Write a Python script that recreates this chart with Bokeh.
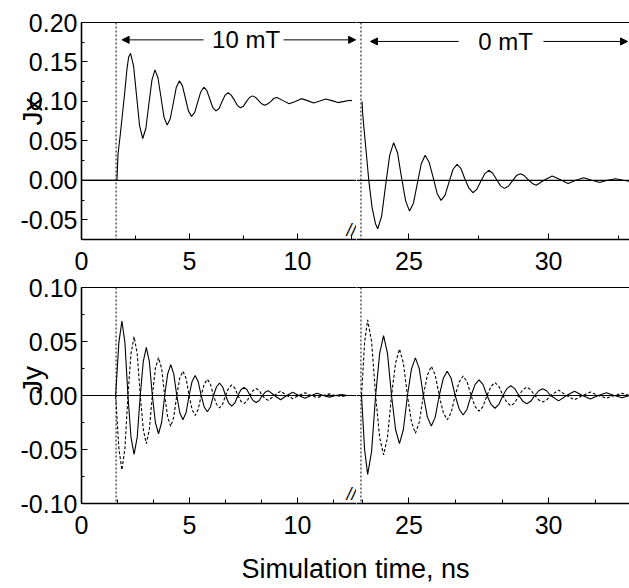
from bokeh.plotting import figure
from bokeh.layouts import column, row
from bokeh.models import (Range1d, Span, Label, Arrow, NormalHead, LinearAxis,
                          SingleIntervalTicker, FixedTicker, PrintfTickFormatter)
from bokeh.embed import file_html
from bokeh.resources import INLINE

# ---------------- data ----------------
# top panel, x component, field on (left segment)
t_top_left = [0, 1.64, 1.69, 1.80, 1.90, 2.00, 2.10, 2.18, 2.27, 2.41, 2.55, 2.69, 2.835,
              2.98, 3.12, 3.26, 3.40, 3.54, 3.68, 3.82, 3.965, 4.11, 4.25, 4.39, 4.53,
              4.67, 4.81, 4.95, 5.095, 5.24, 5.38, 5.52, 5.66, 5.80, 5.94, 6.08, 6.225,
              6.37, 6.51, 6.65, 6.79, 6.93, 7.07, 7.21, 7.355, 7.50, 7.64, 7.78, 7.92,
              8.06, 8.20, 8.34, 8.485, 8.63, 8.77, 8.91, 9.05, 9.33, 9.615, 9.90, 10.18,
              10.46, 10.745, 11.03, 11.31, 11.59, 11.875, 12.16, 12.44, 12.52]
jx_top_left = [0, 0, 0.033, 0.059, 0.085, 0.111, 0.140, 0.156, 0.161, 0.145, 0.107, 0.069, 0.053,
               0.066, 0.097, 0.127, 0.140, 0.130, 0.105, 0.080, 0.070, 0.078, 0.098, 0.118, 0.126,
               0.120, 0.104, 0.088, 0.081, 0.086, 0.099, 0.112, 0.118, 0.114, 0.103, 0.092, 0.088,
               0.091, 0.100, 0.108, 0.111, 0.108, 0.102, 0.095, 0.092, 0.094, 0.100, 0.105, 0.107,
               0.105, 0.101, 0.097, 0.095, 0.097, 0.100, 0.104, 0.105, 0.101, 0.097, 0.100, 0.1035,
               0.101, 0.098, 0.1005, 0.103, 0.101, 0.0985, 0.100, 0.1015, 0.1005]

# top panel, field off (right segment)
t_top_right = [23.32, 23.34, 23.38, 23.47, 23.56, 23.68, 23.80, 23.88, 24.02, 24.16, 24.31, 24.45,
               24.59, 24.73, 24.88, 25.02, 25.16, 25.30, 25.44, 25.58, 25.72, 25.87, 26.01, 26.15,
               26.29, 26.43, 26.58, 26.72, 26.86, 27.00, 27.15, 27.29, 27.43, 27.57, 27.72, 27.86,
               28.00, 28.14, 28.28, 28.42, 28.56, 28.70, 28.85, 28.99, 29.13, 29.27, 29.42, 29.56,
               29.84, 30.13, 30.41, 30.70, 30.98, 31.26, 31.55, 31.83, 32.11, 32.40, 32.68, 32.95]
jx_top_right = [0.100, 0.085, 0.069, 0.035, 0.000, -0.035, -0.055, -0.0614, -0.0455, -0.007, 0.032, 0.0477,
                0.035, 0.004, -0.026, -0.039, -0.029, -0.004, 0.021, 0.0317, 0.023, 0.003, -0.017, -0.0254,
                -0.019, -0.003, 0.014, 0.0203, 0.015, 0.002, -0.010, -0.0157, -0.0115, -0.0015, 0.0085, 0.0127,
                0.009, 0.001, -0.007, -0.0102, -0.0075, -0.001, 0.006, 0.0084, 0.006, 0.001, -0.004, -0.0063,
                0.000, 0.0055, 0.001, -0.004, 0.000, 0.0033, 0.000, -0.0028, 0.000, 0.002, 0.000, -0.0015]

# bottom panel, y component: solid and dashed curves, field on (left segment)
t_bot_left = [0, 1.58, 1.73, 1.87, 2.01, 2.15, 2.29, 2.435, 2.58, 2.72, 2.86, 3.00, 3.14, 3.28,
              3.42, 3.565, 3.71, 3.85, 3.99, 4.13, 4.27, 4.41, 4.55, 4.695, 4.84, 4.98, 5.12,
              5.26, 5.40, 5.54, 5.68, 5.825, 5.97, 6.11, 6.25, 6.39, 6.53, 6.67, 6.81, 6.955,
              7.10, 7.24, 7.38, 7.52, 7.66, 7.80, 7.94, 8.085, 8.23, 8.37, 8.51, 8.65, 8.93,
              9.215, 9.50, 9.78, 10.06, 10.345, 10.63, 10.91, 11.19, 11.475, 11.76, 12.04, 12.30]
jy_solid_left = [0, 0, 0.049, 0.069, 0.049, 0, -0.0385, -0.0545, -0.0385, 0, 0.0315, 0.0446, 0.0315, 0,
                 -0.025, -0.0354, -0.025, 0, 0.020, 0.0286, 0.020, 0, -0.016, -0.0225, -0.016, 0, 0.013,
                 0.0185, 0.013, 0, -0.0106, -0.015, -0.0106, 0, 0.0081, 0.0115, 0.0081, 0, -0.0069, -0.0098,
                 -0.0069, 0, 0.0053, 0.0075, 0.0053, 0, -0.0046, -0.0065, -0.0046, 0, 0.0032, 0.0045, 0,
                 -0.004, 0, 0.003, 0, -0.0025, 0, 0.002, 0, -0.0015, 0, 0.001, 0]
jy_dash_left = [0, 0, -0.049, -0.069, -0.049, 0, 0.0385, 0.0545, 0.0385, 0, -0.0315, -0.0446, -0.0315, 0,
                0.025, 0.035, 0.025, 0, -0.020, -0.0286, -0.020, 0, 0.016, 0.0225, 0.016, 0, -0.013,
                -0.0185, -0.013, 0, 0.0106, 0.015, 0.0106, 0, -0.0081, -0.0115, -0.0081, 0, 0.0069, 0.0098,
                0.0069, 0, -0.0053, -0.0075, -0.0053, 0, 0.0046, 0.0065, 0.0046, 0, -0.0032, -0.0045, 0,
                0.004, 0, -0.003, 0, 0.0025, 0, -0.002, 0, 0.0015, 0, -0.001, 0]

# bottom panel, field off (right segment)
t_bot_right = [23.30, 23.41, 23.52, 23.66, 23.805, 23.95, 24.09, 24.23, 24.375, 24.52, 24.66, 24.80,
               24.945, 25.09, 25.23, 25.37, 25.515, 25.66, 25.80, 25.94, 26.085, 26.23, 26.37, 26.51,
               26.655, 26.80, 26.94, 27.08, 27.225, 27.37, 27.51, 27.65, 27.795, 27.94, 28.08, 28.22,
               28.365, 28.51, 28.65, 28.79, 28.935, 29.08, 29.22, 29.36, 29.505, 29.65, 29.79, 29.93,
               30.075, 30.36, 30.645, 30.93, 31.215, 31.50, 31.785, 32.07, 32.355, 32.64, 32.90]
jy_solid_right = [0, -0.050, -0.073, -0.052, 0, 0.039, 0.0555, 0.039, 0, -0.0315, -0.0446, -0.0315,
                  0, 0.0246, 0.0348, 0.0246, 0, -0.020, -0.0283, -0.020, 0, 0.0159, 0.0225, 0.0159,
                  0, -0.0127, -0.018, -0.0127, 0, 0.0103, 0.0145, 0.0103, 0, -0.0083, -0.0118, -0.0083,
                  0, 0.0064, 0.009, 0.0064, 0, -0.0054, -0.0077, -0.0054, 0, 0.0044, 0.0062, 0.0044,
                  0, -0.005, 0, 0.004, 0, -0.0032, 0, 0.0026, 0, -0.002, 0]
jy_dash_right = [0, 0.049, 0.070, 0.050, 0, -0.039, -0.055, -0.039, 0, 0.030, 0.043, 0.030,
                 0, -0.0247, -0.035, -0.0247, 0, 0.019, 0.027, 0.019, 0, -0.0159, -0.0225, -0.0159,
                 0, 0.0127, 0.018, 0.0127, 0, -0.0103, -0.0145, -0.0103, 0, 0.0085, 0.012, 0.0085,
                 0, -0.0067, -0.0095, -0.0067, 0, 0.0054, 0.0077, 0.0054, 0, -0.0042, -0.006, -0.0042,
                 0, 0.005, 0, -0.004, 0, 0.0032, 0, -0.0025, 0, 0.002, 0]

# broken time axis: visible part of each segment
LEFT_X = (0, 12.73)
RIGHT_X = (23.12, 32.9)
TOP_Y = (-0.075, 0.2)
BOT_Y = (-0.1, 0.1)
FIELD_ON = 1.6
FIELD_OFF = 23.28
NBSP = "\u00a0"
Y_LABEL_TOP = NBSP * 5 + "Jx"
Y_LABEL_BOT = NBSP * 4 + "Jy"
X_LABEL = "Simulation time, ns"
ON_TEXT, OFF_TEXT = "10 mT", "0 mT"
ON_ARROWS = [(5.65, 1.88), (9.35, 12.69)]
ON_TEXT_X = 7.62
OFF_ARROWS = [(26.78, 23.62), (29.82, 32.83)]
OFF_TEXT_X = 28.46
ARROW_Y_ON, ARROW_Y_OFF = 0.178, 0.176

FONT = "Liberation Sans"
TICK_SIZE = "25px"
LW, RW = 356, 273


def make_panel(width, height, xr, yr, left, top, bottom, x_minor, ylabel=None):
    p = figure(width=width, height=height, x_range=Range1d(*xr), y_range=Range1d(*yr),
               toolbar_location=None, output_backend="svg",
               x_axis_location=None, y_axis_location=None,
               min_border_left=left, min_border_right=0,
               min_border_top=top, min_border_bottom=bottom)
    p.outline_line_color = None
    p.xgrid.visible = False
    p.ygrid.visible = False
    p.background_fill_color = "white"
    p.border_fill_color = None

    xb = LinearAxis(ticker=SingleIntervalTicker(interval=5, num_minor_ticks=x_minor))
    xb.axis_line_width = 1.6
    xb.major_tick_in, xb.major_tick_out = 6, 0
    xb.minor_tick_in, xb.minor_tick_out = 4, 0
    xb.major_label_standoff = 12
    xb.major_label_text_font = FONT
    xb.major_label_text_font_size = TICK_SIZE
    xb.major_label_text_color = "black"
    p.add_layout(xb, "below")

    xt = LinearAxis(ticker=FixedTicker(ticks=[]))
    xt.axis_line_width = 1
    xt.major_tick_in = xt.major_tick_out = 0
    xt.minor_tick_in = xt.minor_tick_out = 0
    xt.major_label_standoff = 0
    xt.major_label_text_font_size = "0px"
    p.add_layout(xt, "above")

    if ylabel is not None:
        ya = LinearAxis(ticker=SingleIntervalTicker(interval=0.05, num_minor_ticks=2),
                        formatter=PrintfTickFormatter(format="%.2f"))
        ya.axis_line_width = 1.6
        ya.major_tick_in, ya.major_tick_out = 6, 0
        ya.minor_tick_in, ya.minor_tick_out = 3, 0
        ya.major_label_standoff = 4
        ya.major_label_text_font = FONT
        ya.major_label_text_font_size = TICK_SIZE
        ya.major_label_text_color = "black"
        ya.axis_label = ylabel
        ya.axis_label_standoff = -30
        ya.axis_label_text_font = FONT
        ya.axis_label_text_font_size = "28px"
        ya.axis_label_text_font_style = "normal"
        ya.axis_label_text_color = "black"
        p.add_layout(ya, "left")

    p.add_layout(Span(location=0, dimension="width", line_color="black", line_width=1.2))
    return p


def break_mark(p, x, y):
    p.add_layout(Label(x=x, y=y, text="//", text_align="right", text_baseline="bottom",
                       text_font=FONT, text_font_size="18px", text_font_style="italic",
                       text_color="black"))


def arrows(p, pairs, y):
    for xs, xe in pairs:
        p.add_layout(Arrow(end=NormalHead(size=7, fill_color="black", line_color="black"),
                           x_start=xs, y_start=y, x_end=xe, y_end=y,
                           line_color="black", line_width=1))


# ---------- top row ----------
tl = make_panel(LW, 281, LEFT_X, TOP_Y, 81, 22, 42, 2, Y_LABEL_TOP)
tr = make_panel(RW, 281, RIGHT_X, TOP_Y, 0, 22, 42, 2)
tl.line(t_top_left, jx_top_left, line_color="black", line_width=1.1)
tr.line(t_top_right, jx_top_right, line_color="black", line_width=1.1)
tl.add_layout(Span(location=FIELD_ON, dimension="height", line_color="black",
                   line_width=1, line_dash="2 2"))
tr.add_layout(Span(location=FIELD_OFF, dimension="height", line_color="black",
                   line_width=1, line_dash="2 2"))
arrows(tl, ON_ARROWS, ARROW_Y_ON)
arrows(tr, OFF_ARROWS, ARROW_Y_OFF)
tl.add_layout(Label(x=ON_TEXT_X, y=ARROW_Y_ON, text=ON_TEXT, text_align="center",
                    text_baseline="middle", text_font=FONT, text_font_size="24px",
                    text_color="black"))
tr.add_layout(Label(x=OFF_TEXT_X, y=ARROW_Y_OFF, text=OFF_TEXT, text_align="center",
                    text_baseline="middle", text_font=FONT, text_font_size="24px",
                    text_color="black"))
break_mark(tl, LEFT_X[1], TOP_Y[0])

# ---------- bottom row ----------
bl = make_panel(LW, 273, LEFT_X, BOT_Y, 81, 15, 42, 3, Y_LABEL_BOT)
br = make_panel(RW, 273, RIGHT_X, BOT_Y, 0, 15, 42, 3)
bl.line(t_bot_left, jy_solid_left, line_color="black", line_width=1.1)
bl.line(t_bot_left, jy_dash_left, line_color="black", line_width=1.1, line_dash="3 2")
br.line(t_bot_right, jy_solid_right, line_color="black", line_width=1.1)
br.line(t_bot_right, jy_dash_right, line_color="black", line_width=1.1, line_dash="3 2")
bl.add_layout(Span(location=FIELD_ON, dimension="height", line_color="black",
                   line_width=1, line_dash="2 2"))
br.add_layout(Span(location=FIELD_OFF, dimension="height", line_color="black",
                   line_width=1, line_dash="2 2"))
break_mark(bl, LEFT_X[1], BOT_Y[0])

# ---------- shared x-axis title ----------
cap = figure(width=LW + RW, height=40, toolbar_location=None, output_backend="svg",
             x_axis_location=None, y_axis_location=None, title=X_LABEL,
             min_border_left=81, min_border_right=0, min_border_top=0, min_border_bottom=0)
cap.outline_line_color = None
cap.border_fill_color = None
cap.xgrid.visible = False
cap.ygrid.visible = False
cap.title.align = "center"
cap.title.text_font = FONT
cap.title.text_font_size = "27px"
cap.title.text_font_style = "normal"
cap.title.text_color = "black"
cap.margin = (3, 0, 0, 0)

top_row = row(tl, tr)
bottom_row = row(bl, br)
bottom_row.margin = (-9, 0, 0, 0)
layout = column(top_row, bottom_row, cap)

open("out.html", "w").write(file_html(layout, INLINE))
